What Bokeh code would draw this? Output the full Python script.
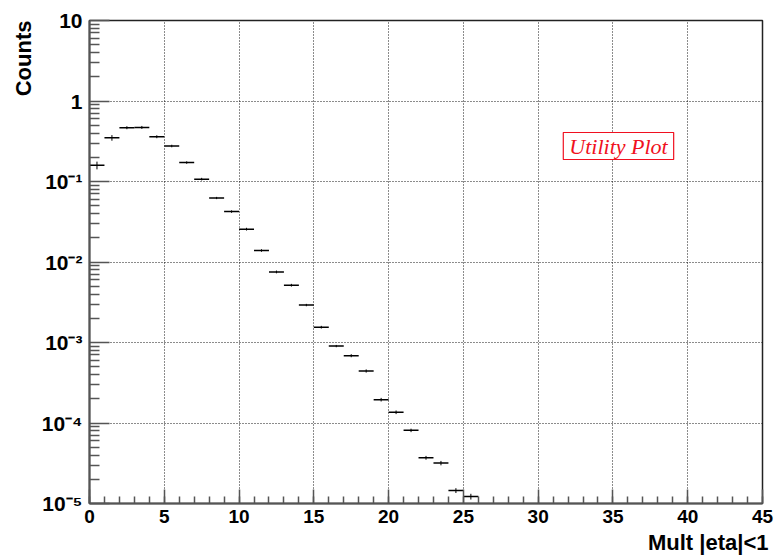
from bokeh.plotting import figure
from bokeh.models import Range1d, FixedTicker, SingleIntervalTicker, Label, Title
from bokeh.embed import file_html
from bokeh.resources import INLINE

# ---- data (histogram: bins of width 1 starting at 0) ----
bin_edges = list(range(0, 27))
counts = [0.159, 0.349, 0.466, 0.470, 0.360, 0.276, 0.172, 0.107, 0.0624, 0.0423,
          0.0256, 0.0139, 0.00753, 0.00515, 0.00292, 0.00155, 0.000903, 0.000686,
          0.000443, 0.000195, 0.000136, 8.1e-5, 3.7e-5, 3.18e-5, 1.45e-5, 1.22e-5]
errors = [0.0175, 0.028, 0.02, 0.02, 0.015, 0.01, 0.006, 0.004, 0.002, 0.0015,
          0.001, 0.0005, 0.0003, 0.0002, 0.0001, 0.00006, 0.00003, 0.00003,
          0.00002, 0.00001, 0.000007, 0.000004, 0.000002, 0.000002, 0.000001, 0.000001]

y_major = [1e-5, 1e-4, 1e-3, 1e-2, 1e-1, 1.0, 10.0]
y_labels = ["10\u207b\u2075", "10\u207b\u2074", "10\u207b\u00b3", "10\u207b\u00b2",
            "10\u207b\u00b9", "1", "10"]
x_title = "Mult |eta|<1"
y_title = "Counts"
note_text = "Utility Plot"

# ---- derived ----
left = bin_edges[:-1]
right = bin_edges[1:]
centers = [(a + b) / 2 for a, b in zip(left, right)]
lo = [c - e for c, e in zip(counts, errors)]
hi = [c + e for c, e in zip(counts, errors)]
y_minor = [m * 10.0 ** k for k in range(-5, 1) for m in range(2, 10)]

p = figure(width=775, height=559, y_axis_type="log",
           x_range=Range1d(0, 45), y_range=Range1d(1e-5, 10),
           output_backend="svg", toolbar_location=None,
           min_border_left=89, min_border_right=13, min_border_top=20, min_border_bottom=56)
p.background_fill_color = "white"
p.border_fill_color = "white"
p.outline_line_color = "#222222"
p.outline_line_width = 1.5

# histogram bars (horizontal) and error bars (vertical)
p.segment(x0=left, y0=counts, x1=right, y1=counts, line_color="black", line_width=1.5)
p.segment(x0=centers, y0=lo, x1=centers, y1=hi, line_color="black", line_width=1)

# axes
xa = p.xaxis[0]
xa.ticker = SingleIntervalTicker(interval=5, num_minor_ticks=5)
ya = p.yaxis[0]
ya.ticker = FixedTicker(ticks=y_major, minor_ticks=y_minor)
ya.major_label_overrides = {v: s for v, s in zip(y_major, y_labels)}

for ax in (xa, ya):
    ax.axis_line_color = "#555555"
    ax.axis_line_width = 2
    ax.major_tick_line_color = "#555555"
    ax.minor_tick_line_color = "#555555"
    ax.major_tick_line_width = 1.5
    ax.minor_tick_line_width = 1.5
    ax.major_tick_out = 0
    ax.minor_tick_out = 0
    ax.major_label_text_font = "Liberation Sans"
    ax.major_label_text_font_style = "bold"
    ax.major_label_text_color = "black"

xa.major_label_text_font_size = "19px"
ya.major_label_text_font_size = "21px"
xa.major_tick_in = 14
xa.minor_tick_in = 7
ya.major_tick_in = 20
ya.minor_tick_in = 10
xa.major_label_standoff = 6
ya.major_label_standoff = 7

# axis titles (ROOT style: aligned to the axis end)
p.add_layout(Title(text=x_title, align="right", offset=-6, standoff=4,
                   text_font="Liberation Sans", text_font_style="bold",
                   text_font_size="22px", text_color="black"), "below")
p.add_layout(Title(text=y_title, align="right", offset=0, standoff=5,
                   text_font="Liberation Sans", text_font_style="bold",
                   text_font_size="22px", text_color="black"), "left")

# grid
for g in (p.xgrid[0], p.ygrid[0]):
    g.grid_line_color = "black"
    g.grid_line_dash = "1 2"
    g.grid_line_width = 1
    g.grid_line_alpha = 0.9

# note box
p.add_layout(Label(x=35.37, y=0.276, text=note_text, text_font="Liberation Serif",
                   text_font_style="italic", text_font_size="22px", text_color="#f01020",
                   text_align="center", text_baseline="middle",
                   border_line_color="#f01020", border_line_width=1.2,
                   background_fill_color="white",
                   padding=dict(left=6, right=6, top=1, bottom=1)))

open("out.html", "w").write(file_html(p, INLINE))
